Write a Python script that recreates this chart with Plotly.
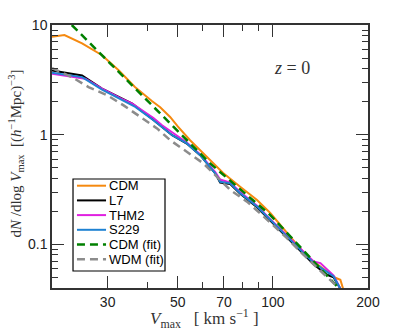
import plotly.graph_objects as go

# values (Vmax in km/s, dN/dlogVmax)
cdm_v = [20, 21.9, 24.9, 28.8, 32.5, 36.6, 41.5, 44.0, 47.3, 50, 54.7, 60.2, 69.6, 78.8, 89.1, 98.1, 113.5, 128.2, 141.4, 157.7, 163.5, 167]
cdm_n = [7.8, 8.1, 6.8, 5.3, 3.86, 2.72, 2.02, 1.78, 1.45, 1.19, 0.89, 0.68, 0.447, 0.335, 0.254, 0.193, 0.118, 0.0775, 0.0628, 0.0496, 0.0476, 0.039]

l7_v = [20, 24.9, 28.8, 32.5, 35.9, 41.9, 48.0, 53.4, 58.9, 65.7, 68.1, 73.3, 78.8, 89.1, 98.1, 110.8, 125.1, 134.6, 141.4, 148.4, 155.7, 163.5]
l7_n = [3.85, 3.47, 2.63, 2.21, 1.92, 1.36, 0.99, 0.83, 0.65, 0.444, 0.365, 0.355, 0.29, 0.218, 0.165, 0.116, 0.082, 0.066, 0.0587, 0.0528, 0.05, 0.0394]

thm2_v = [20, 25.5, 28.8, 32.9, 35.9, 41.9, 44.6, 53.4, 58.9, 65.7, 68.1, 73.3, 78.8, 89.1, 98.1, 110.8, 125.1, 134.6, 141.4, 155.7, 163.5]
thm2_n = [3.60, 3.24, 2.63, 2.15, 1.92, 1.42, 1.22, 0.85, 0.66, 0.455, 0.39, 0.365, 0.30, 0.225, 0.170, 0.12, 0.085, 0.0698, 0.0675, 0.052, 0.0394]

s229_v = [20, 24.9, 28.8, 32.9, 36.7, 41.9, 48.0, 53.4, 58.9, 65.7, 68.1, 73.3, 78.8, 89.1, 98.1, 110.8, 125.1, 134.6, 141.4, 155.7, 163.5]
s229_n = [3.68, 3.35, 2.58, 2.13, 1.79, 1.355, 0.99, 0.832, 0.651, 0.444, 0.372, 0.360, 0.292, 0.221, 0.167, 0.118, 0.0832, 0.068, 0.062, 0.0509, 0.0394]

cdmfit_v = [23.1, 28.8, 35.0, 47.3, 63.3, 98.1, 161.5]
cdmfit_n = [10, 5.28, 3.02, 1.26, 0.547, 0.185, 0.040]

wdmfit_v = [20, 23.1, 26.1, 29.9, 33.7, 38.1, 43.0, 47.3, 53.4, 60.3, 73.3, 82.8, 91.2, 110.8, 125.1, 161.5]
wdmfit_n = [4.05, 3.35, 2.72, 2.29, 1.85, 1.45, 1.14, 0.891, 0.698, 0.547, 0.313, 0.245, 0.192, 0.114, 0.0803, 0.040]

x_ticks = [30, 50, 70, 100, 200]
x_minor = [40, 60, 80, 90]
y_ticks = [0.1, 1, 10]
y_minor = [0.04, 0.05, 0.06, 0.07, 0.08, 0.09, 0.2, 0.3, 0.4, 0.5, 0.6, 0.7, 0.8, 0.9,
           2, 3, 4, 5, 6, 7, 8, 9]

series = [
    ("CDM", cdm_v, cdm_n, "#f5890f", "solid", 2),
    ("L7", l7_v, l7_n, "black", "solid", 2),
    ("THM2", thm2_v, thm2_n, "#e020e0", "solid", 2),
    ("S229", s229_v, s229_n, "#1f82d2", "solid", 2),
    ("CDM (fit)", cdmfit_v, cdmfit_n, "#008000", "8px,5px", 2.5),
    ("WDM (fit)", wdmfit_v, wdmfit_n, "#8c8c8c", "8px,5px", 2.5),
]

serif = "Liberation Serif, DejaVu Serif, serif"
sans = "Liberation Sans, Arial, sans-serif"

fig = go.Figure()
for name, v, n, color, dash, w in series:
    fig.add_trace(go.Scatter(x=v, y=n, mode="lines", name=name, showlegend=False,
                             line=dict(color=color, width=w, dash=dash)))

# hand-drawn legend box, like the matplotlib one in the reference
fig.add_shape(type="rect", xref="paper", yref="paper", x0=0.0665, x1=0.3576,
              y0=0.0646, y1=0.4144, line=dict(color="black", width=1.2),
              fillcolor="white", layer="above")
for i, (name, v, n, color, dash, w) in enumerate(series):
    yc = (288 - (185.7 + 14.7 * i)) / 263
    fig.add_shape(type="line", xref="paper", yref="paper", x0=0.079, x1=0.171,
                  y0=yc, y1=yc, line=dict(color=color, width=w, dash=dash),
                  layer="above")
    fig.add_annotation(x=0.174, y=yc, xref="paper", yref="paper", showarrow=False,
                       xanchor="left", yanchor="middle", text=name,
                       font=dict(family=sans, size=13, color="black"))

axis_style = dict(type="log", showline=True, linecolor="#333", linewidth=1.5,
                  mirror="ticks", ticks="inside", ticklen=12, tickwidth=1.2,
                  tickcolor="#333", showgrid=False, zeroline=False, automargin=False,
                  tickfont=dict(family=sans, size=14, color="#222"))

fig.update_xaxes(**axis_style, range=[1.30103, 2.30103], tickvals=x_ticks,
                 ticktext=[str(t) for t in x_ticks],
                 minor=dict(tickvals=x_minor, ticklen=6, tickcolor="#333", ticks="inside"))
fig.update_yaxes(**axis_style, range=[-1.39794, 1], tickvals=y_ticks,
                 ticktext=["0.1", "1", "10"],
                 minor=dict(tickvals=y_minor, ticklen=6, tickcolor="#333", ticks="inside"))

fig.add_annotation(x=0.823, y=0.883, xref="paper", yref="paper", showarrow=False,
                   text="<i>z</i> = 0", font=dict(family=serif, size=18, color="#333"))
fig.add_annotation(x=-0.153, y=0.51, xref="paper", yref="paper", showarrow=False,
                   textangle=-90,
                   text="d<i>N</i> /dlog <i>V</i><sub>max</sub>  [(<i>h</i><sup>−1</sup>Mpc)<sup>−3</sup>]",
                   font=dict(family=serif, size=15, color="#333"))
fig.add_annotation(x=0.483, y=-0.172, xref="paper", yref="paper", showarrow=False,
                   text="<i>V</i><sub>max</sub>   [ km s<sup>−1</sup> ]",
                   font=dict(family=serif, size=17, color="#333"))

fig.update_layout(
    width=407, height=330,
    margin=dict(l=52, r=39, t=25, b=42),
    paper_bgcolor="white", plot_bgcolor="white",
    showlegend=False,
)

fig.write_html("out.html", config={"displayModeBar": False},
               post_script="document.body.style.margin='0';")
